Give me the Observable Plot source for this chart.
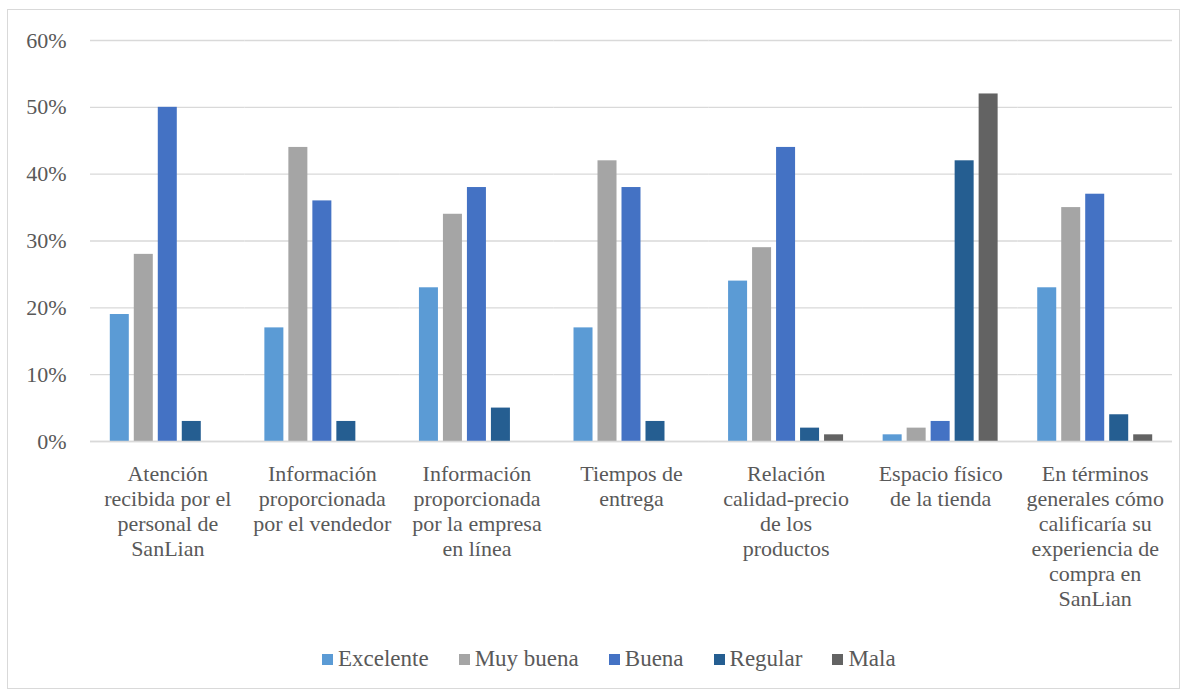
<!DOCTYPE html>
<html>
<head>
<meta charset="utf-8">
<script src="https://cdn.jsdelivr.net/npm/d3@7"></script>
<script src="https://cdn.jsdelivr.net/npm/@observablehq/plot@0.6"></script>
<style>
  html, body { margin: 0; padding: 0; background: #fff; font-family: 'Liberation Serif', serif; }
  #frame {
    position: absolute; left: 7px; top: 9px; width: 1171px; height: 678px;
    border: 1px solid #d9d9d9; background: #fff;
  }
  #chart { position: absolute; left: 0; top: 0; }
  #legend {
    position: absolute; left: 0; top: 625px; width: 1171px; height: 48px; box-sizing: border-box;
    padding-left: 314px;
    display: flex; justify-content: flex-start; align-items: center;
    font-family: 'Liberation Serif', serif; font-size: 23px; color: #595959;
  }
  .item { display: flex; align-items: center; margin-right: 30px; white-space: nowrap; }
  .item:last-child { margin-right: 0; }
  .sw { width: 11px; height: 11px; margin-right: 5px; }
  svg text { font-family: 'Liberation Serif', serif; }
</style>
</head>
<body>
<div id="frame"><div id="chart"></div><div id="legend"></div></div>
<script>
const categories = [
  "Atención\nrecibida por el\npersonal de\nSanLian",
  "Información\nproporcionada\npor el vendedor",
  "Información\nproporcionada\npor la empresa\nen línea",
  "Tiempos de\nentrega",
  "Relación\ncalidad-precio\nde los\nproductos",
  "Espacio físico\nde la tienda",
  "En términos\ngenerales cómo\ncalificaría su\nexperiencia de\ncompra en\nSanLian"
];
const seriesNames = ["Excelente", "Muy buena", "Buena", "Regular", "Mala"];
const excelente = [19, 17, 23, 17, 24, 1, 23];
const muyBuena  = [28, 44, 34, 42, 29, 2, 35];
const buena     = [50, 36, 38, 38, 44, 3, 37];
const regular   = [3, 3, 5, 3, 2, 42, 4];
const mala      = [0, 0, 0, 0, 1, 52, 1];
const yTicks = [0, 10, 20, 30, 40, 50, 60];
const colors = ["#5B9BD5", "#A5A5A5", "#4472C4", "#255E91", "#636363"];

const seriesValues = [excelente, muyBuena, buena, regular, mala];
const data = [];
categories.forEach((c, i) => {
  seriesNames.forEach((s, j) => data.push({category: c, series: s, value: seriesValues[j][i]}));
});

const font = "'Liberation Serif', serif";
const chart = Plot.plot({
  width: 1171,
  height: 616,
  marginLeft: 82,
  marginRight: 7,
  marginTop: 30,
  marginBottom: 185,
  style: {fontFamily: font, fontSize: "22px", color: "#595959", background: "transparent"},
  fx: {domain: categories, paddingInner: 0, paddingOuter: 0, round: false, label: null},
  x: {domain: seriesNames, paddingInner: 0.208, paddingOuter: 0.825, round: false, axis: null},
  y: {domain: [0, 60], label: null},
  color: {domain: seriesNames, range: colors},
  marks: [
    Plot.gridY(yTicks, {stroke: "#d9d9d9", strokeOpacity: 1, strokeWidth: 1.3}),
    Plot.barY(data, {fx: "category", x: "series", y: "value", fill: "series"}),
    Plot.ruleY([0], {stroke: "#d9d9d9", strokeWidth: 1.5}),
    Plot.axisY(yTicks, {tickSize: 0, tickPadding: 24, label: null, tickFormat: d => d + "%", fill: "#595959", fontFamily: font, fontSize: 22}),
    Plot.axisFx({anchor: "bottom", tickSize: 0, tickPadding: 22, label: null, lineHeight: 1.136, fill: "#595959", fontFamily: font, fontSize: 22})
  ]
});
document.getElementById("chart").appendChild(chart);

const legend = document.getElementById("legend");
seriesNames.forEach((s, i) => {
  const it = document.createElement("div");
  it.className = "item";
  const sw = document.createElement("span");
  sw.className = "sw";
  sw.style.background = colors[i];
  const t = document.createElement("span");
  t.textContent = s;
  it.appendChild(sw); it.appendChild(t);
  legend.appendChild(it);
});
</script>
</body>
</html>
